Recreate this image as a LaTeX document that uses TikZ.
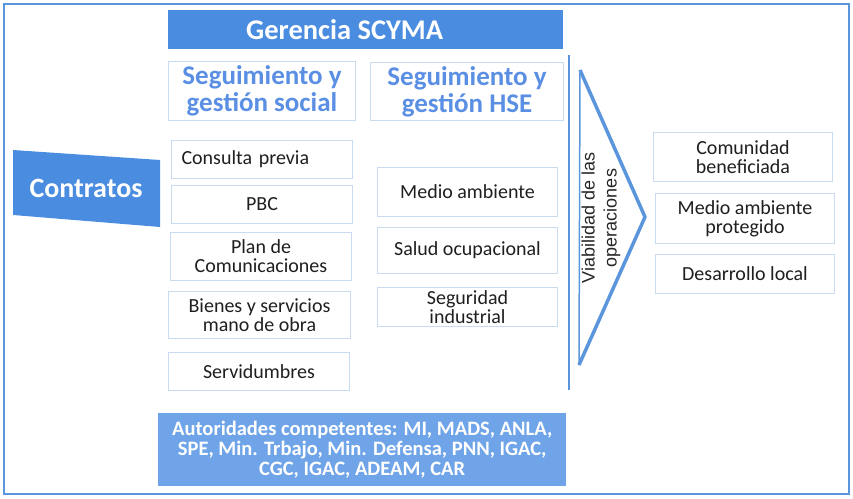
\documentclass[tikz,border=0pt]{standalone}
\usepackage{fontspec}
\setmainfont{Carlito}
\newfontfamily\viafont{Liberation Sans}

\definecolor{scymablue}{HTML}{4A8DE0}
\definecolor{authblue}{HTML}{6FA4E8}
\definecolor{titleblue}{HTML}{5A8FE3}
\definecolor{boxline}{HTML}{C9DBF1}
\definecolor{frameblue}{HTML}{5B96DC}

\tikzset{
  itembox/.style={draw=boxline, line width=1pt, fill=white, anchor=north west,
    align=center, inner sep=1pt, text=black!88,
    font=\fontsize{20}{19}\selectfont},
  headbox/.style={draw=boxline, line width=1pt, anchor=north west, align=center,
    inner sep=1pt, text=titleblue, font=\bfseries\fontsize{27}{27}\selectfont},
}

\begin{document}
\begin{tikzpicture}[x=1pt,y=-1pt]
  \useasboundingbox (0,0) rectangle (853,498);
  \draw[frameblue, line width=2.5pt] (4,4) rectangle (849,494);

  % top and bottom bars
  \node[fill=scymablue, anchor=north west, minimum width=395pt, minimum height=39pt] (gerencia) at (168,10) {};
  \node[text=white, font=\bfseries\fontsize{28.5}{28}\selectfont] (gerenciaText)
    at ([xshift=-21pt]gerencia.center) {Gerencia SCYMA};
  \node[fill=authblue, anchor=north west, minimum width=408pt, minimum height=73pt,
    align=center, inner sep=1pt, text=white, font=\bfseries\fontsize{20.5}{20}\selectfont] (autoridades) at (158,413)
    {Autoridades competentes: MI, MADS, ANLA,\\SPE, Min. Trbajo, Min. Defensa, PNN, IGAC,\\CGC, IGAC, ADEAM, CAR};

  % contratos
  \coordinate (ctA) at (13,150);
  \coordinate (ctB) at (160,160);
  \coordinate (ctC) at (160,227);
  \coordinate (ctD) at (13,215);
  \fill[scymablue] (ctA) -- (ctB) -- (ctC) -- (ctD) -- cycle;
  \node[text=white, font=\bfseries\fontsize{28}{28}\selectfont] (contratos) at (86,188) {Contratos};

  % column heads
  \foreach \name/\x/\y/\w/\h/\txt in {social/168/61/187/59/{Seguimiento y\\gestión social},
      hse/370/62/193/58/{Seguimiento y\\gestión HSE}}
    \node[headbox, minimum width=\w pt, minimum height=\h pt] (\name) at (\x,\y) {\txt};

  % social items
  \node[itembox, minimum width=181pt, minimum height=38pt, inner xsep=10pt,
    text width=161pt, align=left] (consulta) at (171,140) {Consulta previa};
  \foreach \name/\x/\y/\w/\h/\txt in {pbc/171/185/181/38/PBC,
      plan/170/232/181/48/{Plan de\\Comunicaciones},
      bienes/168/291/182/47/{Bienes y servicios\\mano de obra},
      servidumbres/168/352/181/38/Servidumbres}
    \node[itembox, minimum width=\w pt, minimum height=\h pt] (\name) at (\x,\y) {\txt};

  % hse items
  \foreach \name/\x/\y/\w/\h/\txt in {ambiente/377/167/180/49/{Medio ambiente},
      salud/377/227/180/46/{Salud ocupacional},
      seguridad/377/287/180/39/{Seguridad\\industrial}}
    \node[itembox, minimum width=\w pt, minimum height=\h pt] (\name) at (\x,\y) {\txt};

  % divider and chevron
  \coordinate (lineTop) at (569,55);
  \coordinate (lineBot) at (569,390);
  \draw[frameblue, line width=2pt] (lineTop) -- (lineBot);
  \coordinate (chevA) at (580,70);
  \coordinate (chevTip) at (645,217);
  \coordinate (chevB) at (579,365);
  \draw[frameblue, line width=1.5pt] (chevA) -- (chevB);
  \draw[frameblue, line width=3.5pt, line join=round] (chevA) -- (chevTip) -- (chevB);
  \node[rotate=90, align=center, font=\viafont\fontsize{18}{22}\selectfont, text=black!85]
    (viabilidad) at (601,218) {Viabilidad de las\\operaciones};

  % results
  \foreach \name/\x/\y/\w/\h/\txt in {comunidad/653/132/179/49/{Comunidad\\beneficiada},
      protegido/655/193/179/50/{Medio ambiente\\protegido},
      desarrollo/655/254/179/39/{Desarrollo local}}
    \node[itembox, minimum width=\w pt, minimum height=\h pt] (\name) at (\x,\y) {\txt};
\end{tikzpicture}
\end{document}
